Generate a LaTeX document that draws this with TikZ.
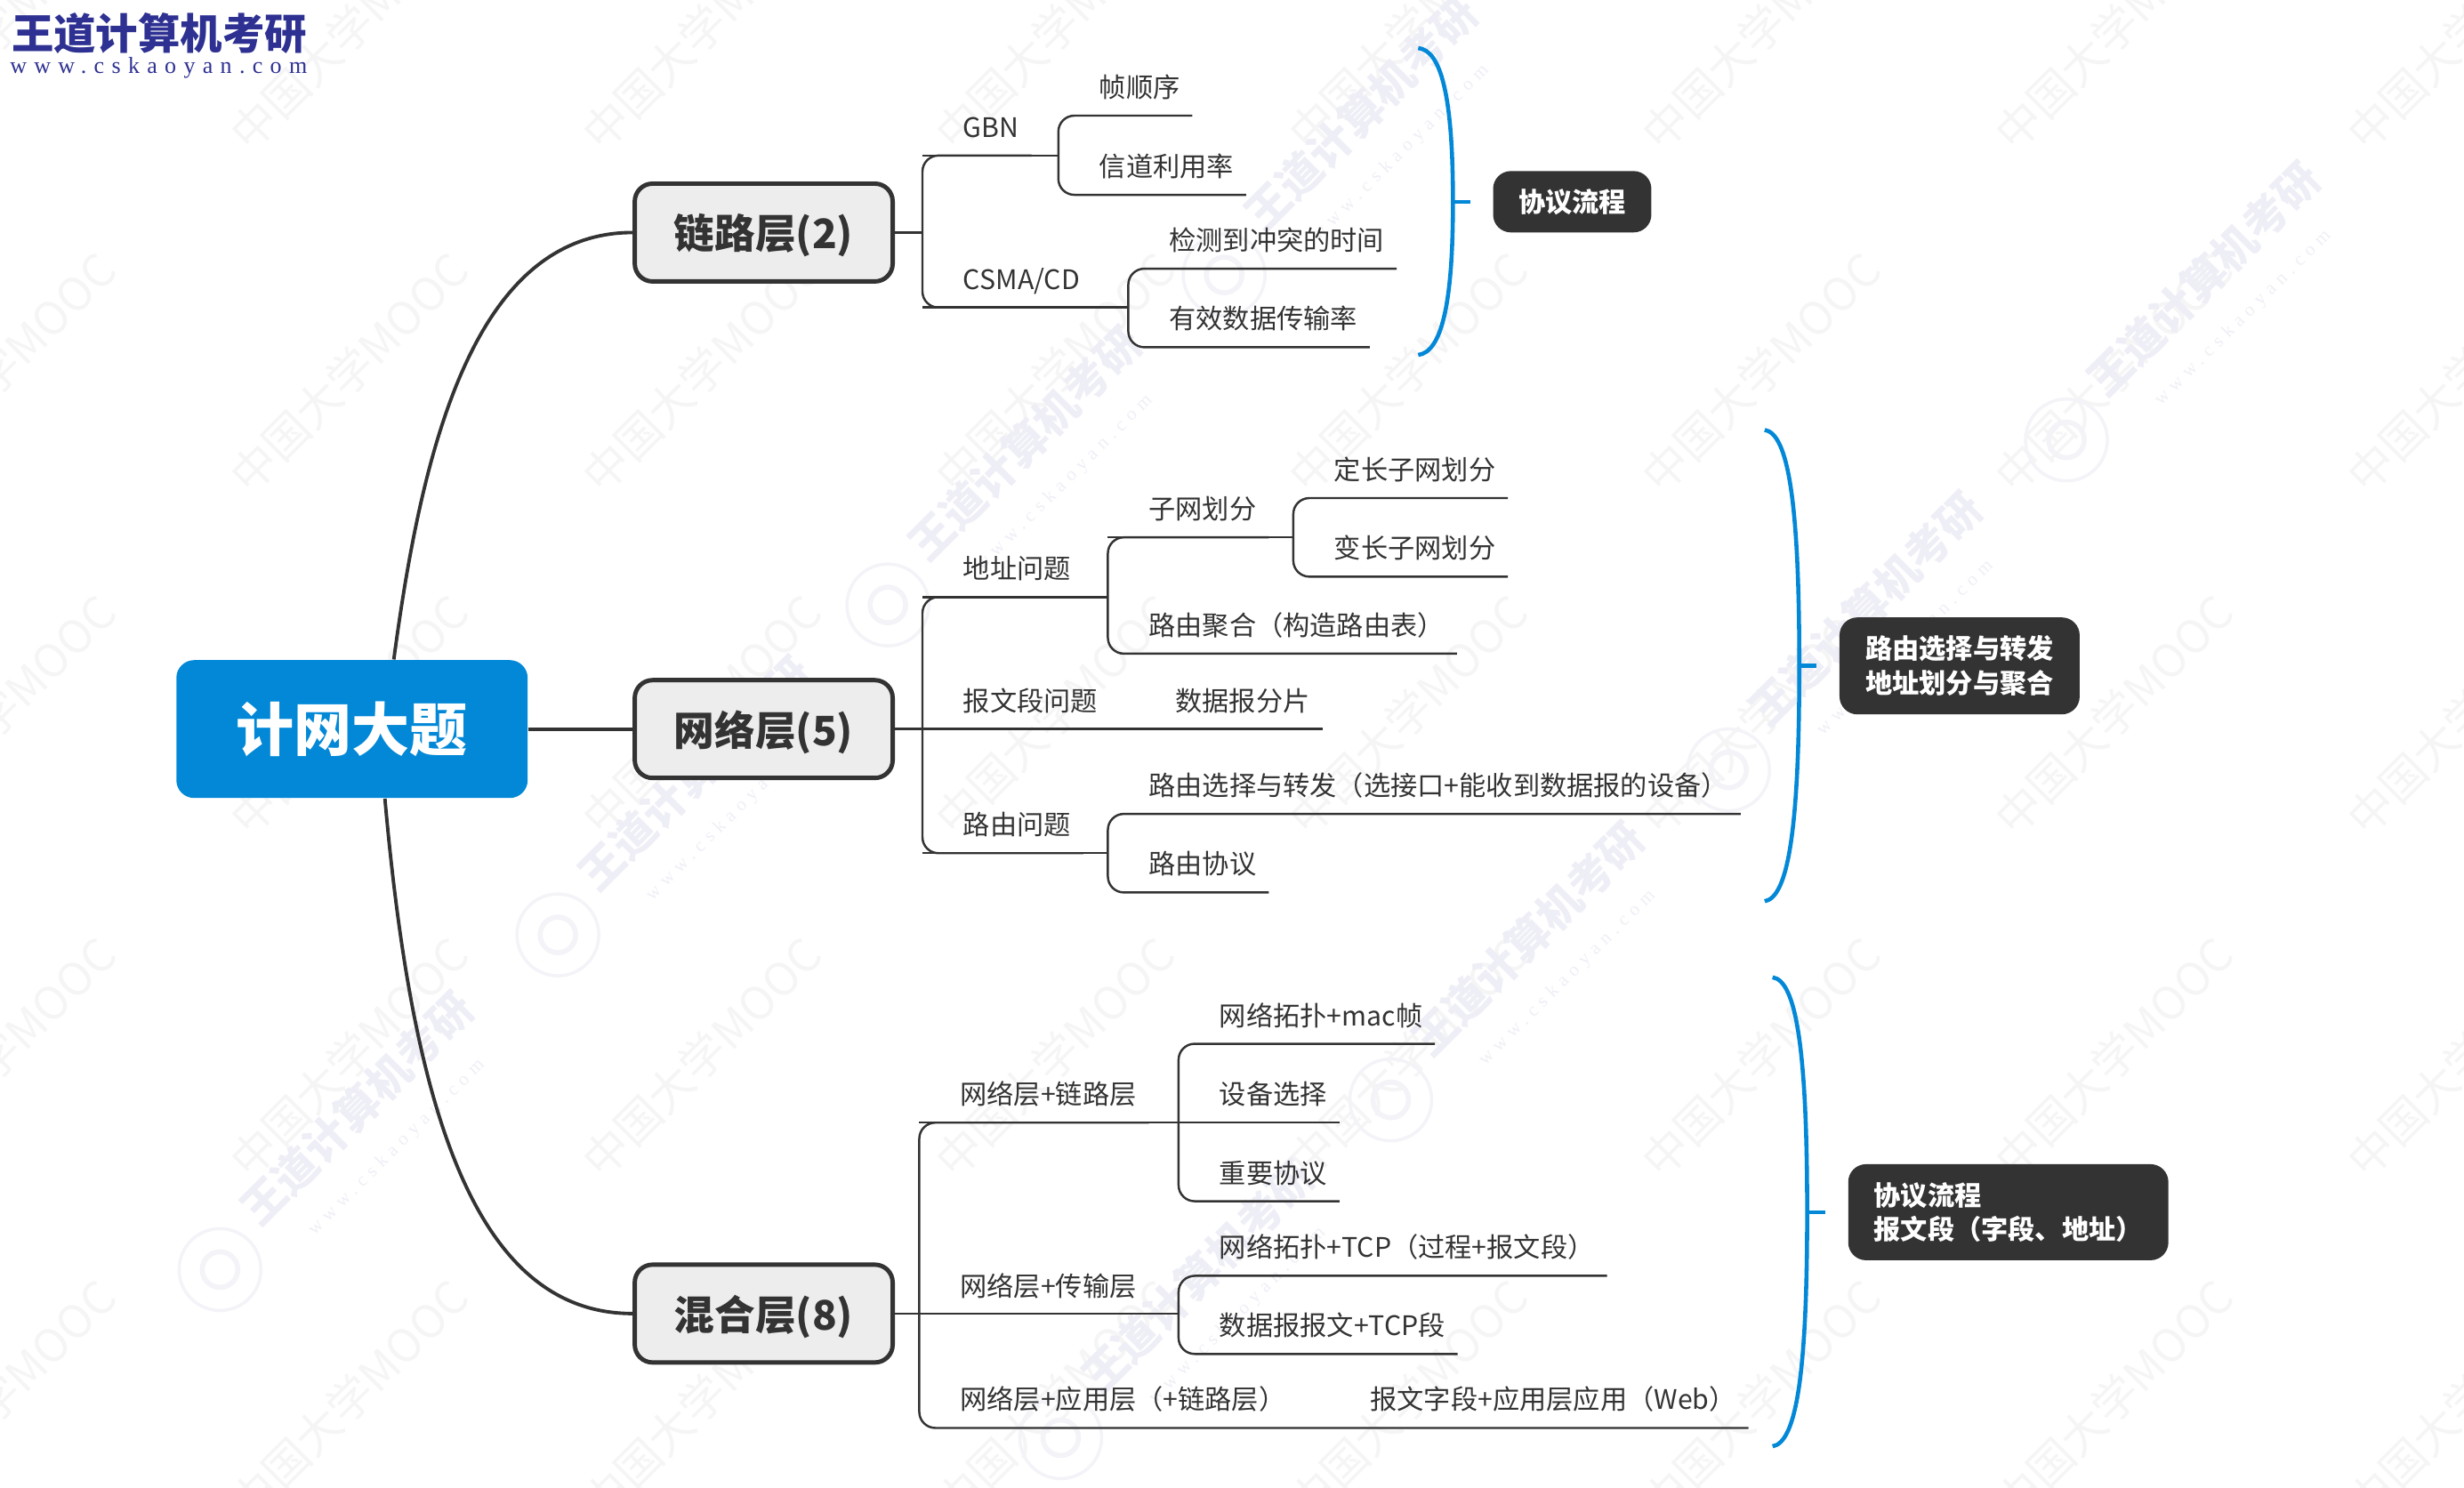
\documentclass[tikz,border=0pt]{standalone}
\usepackage{fontspec}
\setmainfont{Noto Sans CJK SC}
\newfontfamily\urlfont[LetterSpace=32]{Liberation Serif}
\definecolor{rootblue}{HTML}{0288D7}
\definecolor{ink}{HTML}{333333}
\definecolor{navy}{HTML}{2E3192}
\begin{document}
\begin{tikzpicture}[
		x=0.017666cm, y=-0.017666cm,
		root/.style = {rectangle, fill=rootblue, text=white, rounded corners=0.2cm, minimum width=3.95cm, minimum height=1.55cm, font=\fontsize{18.5}{22}\selectfont\bfseries},
		lay/.style = {rectangle, draw=ink, fill=black!7, text=ink, line width=1.4pt, rounded corners=0.2cm, minimum width=2.9cm, minimum height=1.1cm, text height=0.38cm, text depth=0.01cm, font=\fontsize{13}{16}\selectfont\bfseries},
		leaf/.style = {anchor=south west, inner sep=0, outer sep=0, text=ink, text height=0.4cm, text depth=0.205cm, font=\fontsize{8.6}{10}\selectfont, execute at begin node={\hspace{0.46cm}}, execute at end node={\hspace{0.14cm}}},
		note/.style = {rectangle, fill=ink, text=white, rounded corners=0.2cm, align=left, font=\fontsize{8.6}{11}\selectfont\bfseries},
		r/.style = {draw=ink, line width=0.7pt, rounded corners=0.18cm},
		trunk/.style = {draw=ink, line width=1.1pt},
		b/.style = {draw=rootblue, line width=1.3pt},
		wm/.style = {rotate=45, text=black!4, font=\fontsize{14.5}{17}\selectfont},
		wmlogo/.style = {rotate=45, text=navy!8, align=center, font=\fontsize{14}{13}\selectfont\bfseries},
		]
		\clip (0, 0) rectangle (1568, 946.5);

		%Watermarks
		\foreach \i in {-1,...,6}
			\foreach \j in {0,...,4}
				\node[wm]	(wm\i\j)	at	(222+224.6*\i, 19+218*\j)	{中国大学MOOC};
		\foreach \sx/\sy [count=\k] in {565/385, 355/595, 140/808, 1315/280, 1100/490, 885/700, 675/915, 779/175} {
			\draw[navy!6, line width=1pt]	(\sx, \sy) circle (0.46cm);
			\draw[navy!6, line width=1.6pt]	(\sx, \sy) circle (0.2cm);
			\node[wmlogo]	(wl\k)	at	(\sx+97, \sy-93)	{王道计算机考研\\[1pt]{\urlfont\mdseries\fontsize{6}{6}\selectfont www.cskaoyan.com}};
		}

		%Logo
		\node[anchor=west, inner sep=0, text=navy, font=\fontsize{13.5}{16}\selectfont\bfseries]	(logo)	at	(7, 21)	{王道计算机考研};
		\node[anchor=west, inner sep=0, text=navy, font=\urlfont\fontsize{7.4}{9}\selectfont]	(url)	at	(6, 43)	{www.cskaoyan.com};

		%Nodes
		\node[root]	(net)	at	(224, 464)	{计网大题};
		\node[lay]	(lay1)	at	(486, 148)	{链路层(2)};
		\node[lay]	(lay2)	at	(486, 464)	{网络层(5)};
		\node[lay]	(lay3)	at	(486, 836)	{混合层(8)};

		\node[leaf]	(gbn)	at	(587, 99)	{GBN};
		\node[leaf]	(gbn1)	at	(673.5, 73.6)	{帧顺序};
		\node[leaf]	(gbn2)	at	(673.5, 124)	{信道利用率};
		\node[leaf]	(csma)	at	(587, 195.7)	{CSMA/CD};
		\node[leaf]	(csma1)	at	(718, 171)	{检测到冲突的时间};
		\node[leaf]	(csma2)	at	(718, 221)	{有效数据传输率};

		\node[leaf]	(addr)	at	(587, 380)	{地址问题};
		\node[leaf]	(subnet)	at	(705, 342)	{子网划分};
		\node[leaf]	(fixed)	at	(823, 317)	{定长子网划分};
		\node[leaf]	(vari)	at	(823, 367)	{变长子网划分};
		\node[leaf]	(aggr)	at	(705, 416)	{路由聚合（构造路由表）};
		\node[leaf]	(seg)	at	(587, 464)	{报文段问题};
		\node[leaf]	(frag)	at	(722, 464)	{数据报分片};
		\node[leaf]	(route)	at	(587, 543)	{路由问题};
		\node[leaf]	(route1)	at	(705, 518)	{路由选择与转发（选接口+能收到数据报的设备）};
		\node[leaf]	(route2)	at	(705, 568)	{路由协议};

		\node[leaf]	(nl)	at	(585, 714.5)	{网络层+链路层};
		\node[leaf]	(nl1)	at	(750, 664.3)	{网络拓扑+mac帧};
		\node[leaf]	(nl2)	at	(750, 714.5)	{设备选择};
		\node[leaf]	(nl3)	at	(750, 764.5)	{重要协议};
		\node[leaf]	(nt)	at	(585, 836.4)	{网络层+传输层};
		\node[leaf]	(nt1)	at	(750, 812)	{网络拓扑+TCP（过程+报文段）};
		\node[leaf]	(nt2)	at	(750, 861.7)	{数据报报文+TCP段};
		\node[leaf]	(na)	at	(585, 908.8)	{网络层+应用层（+链路层）};
		\node[leaf]	(na1)	at	(846, 908.8)	{报文字段+应用层应用（Web）};

		\node[note, minimum width=1.78cm, minimum height=0.69cm]	(note1)	at	(1000.5, 128.4)	{协议流程};
		\node[note, minimum width=2.7cm, minimum height=1.09cm]	(note2)	at	(1247, 423.8)	{路由选择与转发\\地址划分与聚合};
		\node[note, minimum width=3.6cm, minimum height=1.08cm]	(note3)	at	(1278, 771.5)	{协议流程\\报文段（字段、地址）};

		\coordinate	(b1)	at	(924.6, 128.4);
		\coordinate	(b2)	at	(1145, 423.8);
		\coordinate	(b3)	at	(1150, 771.5);
		\coordinate	(b1t)	at	(902.5, 30.6);
		\coordinate	(b1b)	at	(902.5, 225.9);
		\coordinate	(b2t)	at	(1123, 273.6);
		\coordinate	(b2b)	at	(1123, 573.6);
		\coordinate	(b3t)	at	(1128, 622);
		\coordinate	(b3b)	at	(1128, 920.5);

		%Lines
		\draw[trunk]	([xshift=0.47cm]net.north)	.. controls (268, 290) and (300, 148) ..	(lay1.west);
		\draw[trunk]	(net.east)	--	(lay2.west);
		\draw[trunk]	([xshift=0.37cm]net.south)	.. controls (262, 700) and (300, 836) ..	(lay3.west);

		\draw[r]	(lay1.east)	--	(lay1.east -| gbn.south west);
		\draw[r]	(gbn.south east)	--	(gbn.south west)	--	(csma.south west)	--	(csma.south east);
		\draw[r]	(gbn.south west)	--	(gbn.south west -| gbn1.south west);
		\draw[r]	(gbn1.south east)	--	(gbn1.south west)	--	(gbn2.south west)	--	(gbn2.south east);
		\draw[r]	(csma.south west)	--	(csma.south west -| csma1.south west);
		\draw[r]	(csma1.south east)	--	(csma1.south west)	--	(csma2.south west)	--	(csma2.south east);

		\draw[r]	(lay2.east)	--	(frag.south east);
		\draw[r]	(addr.south east)	--	(addr.south west)	--	(route.south west)	--	(route.south east);
		\draw[r]	(addr.south west)	--	(addr.south west -| subnet.south west);
		\draw[r]	(subnet.south east)	--	(subnet.south west)	--	(aggr.south west)	--	(aggr.south east);
		\draw[r]	(subnet.south west)	--	(subnet.south west -| fixed.south west);
		\draw[r]	(fixed.south east)	--	(fixed.south west)	--	(vari.south west)	--	(vari.south east);
		\draw[r]	(route.south west)	--	(route.south west -| route1.south west);
		\draw[r]	(route1.south east)	--	(route1.south west)	--	(route2.south west)	--	(route2.south east);

		\draw[r]	(lay3.east)	--	(lay3.east -| nt1.south west);
		\draw[r]	(nl.south east)	--	(nl.south west)	--	(na.south west)	--	(na1.south east);
		\draw[r]	(nl.south west)	--	(nl2.south east);
		\draw[r]	(nl1.south east)	--	(nl1.south west)	--	(nl3.south west)	--	(nl3.south east);
		\draw[r]	(nt1.south east)	--	(nt1.south west)	--	(nt2.south west)	--	(nt2.south east);

		\draw[b]	(b1t)	.. controls (917, 32) and (924.6, 61) ..	(b1)	.. controls (924.6, 195) and (917, 224) ..	(b1b);
		\draw[b, shorten >=0.25cm]	(b1)	--	(note1.west);
		\draw[b]	(b2t)	.. controls (1138, 276) and (1145, 320) ..	(b2)	.. controls (1145, 527) and (1138, 571) ..	(b2b);
		\draw[b, shorten >=0.25cm]	(b2)	--	(note2.west);
		\draw[b]	(b3t)	.. controls (1143, 624) and (1150, 668) ..	(b3)	.. controls (1150, 875) and (1143, 918) ..	(b3b);
		\draw[b, shorten >=0.25cm]	(b3)	--	(note3.west);
	\end{tikzpicture}
\end{document}
